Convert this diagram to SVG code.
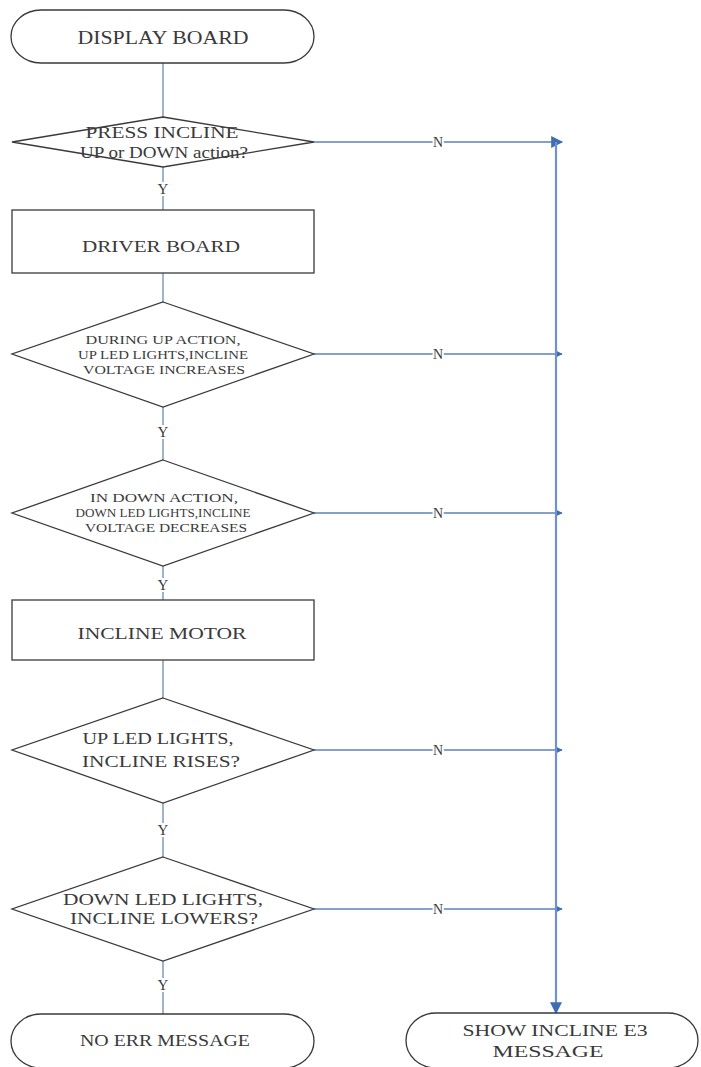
<svg xmlns="http://www.w3.org/2000/svg" width="701" height="1067" viewBox="0 0 701 1067">
  <defs>
    <marker id="arrow" viewBox="0 0 10 10" refX="9" refY="5" markerWidth="9" markerHeight="7" markerUnits="userSpaceOnUse" orient="auto">
      <path d="M0,0 L10,5 L0,10 z" fill="#3d6db3"/>
    </marker>
    <marker id="arrowBig" viewBox="0 0 10 10" refX="9" refY="5" markerWidth="20" markerHeight="12" markerUnits="userSpaceOnUse" orient="auto">
      <path d="M0,0 L10,5 L0,10 z" fill="#3d6db3"/>
    </marker>
  </defs>
  <style>
    .shape { fill: #ffffff; stroke: #3a3a3a; stroke-width: 1.3; }
    .label { font-family: "Liberation Serif", "Times New Roman", serif; fill: #3a3a3a; text-anchor: middle; }
    .flow { stroke: #7f9ab8; stroke-width: 1.5; fill: none; }
    .no { stroke: #5b82bd; stroke-width: 1.5; fill: none; }
    .bus { stroke: #6f93c8; stroke-width: 2.2; fill: none; }
    .tag { font-family: "Liberation Serif", "Times New Roman", serif; fill: #3a3a3a; text-anchor: middle; stroke: #ffffff; stroke-width: 4; paint-order: stroke; }
  </style>
  <rect width="701" height="1067" fill="#ffffff"/>

  <!-- connectors -->
  <g id="connectors">
    <line class="flow" x1="163" y1="63" x2="163" y2="117"/>
    <line class="flow" x1="163" y1="167" x2="163" y2="210"/>
    <line class="flow" x1="163" y1="273" x2="163" y2="302"/>
    <line class="flow" x1="163" y1="407" x2="163" y2="460"/>
    <line class="flow" x1="163" y1="566" x2="163" y2="600"/>
    <line class="flow" x1="163" y1="660" x2="163" y2="698"/>
    <line class="flow" x1="163" y1="803" x2="163" y2="857"/>
    <line class="flow" x1="163" y1="961" x2="163" y2="1014"/>

    <line class="no" x1="314" y1="142" x2="562" y2="142" marker-end="url(#arrowBig)"/>
    <line class="no" x1="314" y1="354" x2="562" y2="354" marker-end="url(#arrow)"/>
    <line class="no" x1="314" y1="513" x2="562" y2="513" marker-end="url(#arrow)"/>
    <line class="no" x1="314" y1="750" x2="562" y2="750" marker-end="url(#arrow)"/>
    <line class="no" x1="314" y1="909" x2="562" y2="909" marker-end="url(#arrow)"/>

    <line class="bus" x1="556" y1="142" x2="556" y2="1013" marker-end="url(#arrowBig)"/>

    <text class="tag" x="163" y="194" font-size="15">Y</text>
    <text class="tag" x="163" y="437" font-size="15">Y</text>
    <text class="tag" x="163" y="590" font-size="15">Y</text>
    <text class="tag" x="163" y="835" font-size="15">Y</text>
    <text class="tag" x="163" y="990" font-size="15">Y</text>

    <text class="tag" x="438" y="147" font-size="14">N</text>
    <text class="tag" x="438" y="359" font-size="14">N</text>
    <text class="tag" x="438" y="518" font-size="14">N</text>
    <text class="tag" x="438" y="755" font-size="14">N</text>
    <text class="tag" x="438" y="914" font-size="14">N</text>
  </g>

  <g id="display-board">
    <rect class="shape" x="11" y="10" width="303" height="53" rx="30" ry="26.5"/>
    <text class="label" x="163" y="44" font-size="18" textLength="171" lengthAdjust="spacingAndGlyphs">DISPLAY BOARD</text>
  </g>

  <g id="press-incline">
    <polygon class="shape" points="163,117 314,142 163,167 12,142"/>
    <text class="label" x="162" y="138" font-size="17" textLength="153" lengthAdjust="spacingAndGlyphs">PRESS INCLINE</text>
    <text class="label" x="164" y="158" font-size="17" textLength="168" lengthAdjust="spacingAndGlyphs">UP or DOWN action?</text>
  </g>

  <g id="driver-board">
    <rect class="shape" x="12" y="210" width="302" height="63"/>
    <text class="label" x="161" y="252" font-size="17" textLength="158" lengthAdjust="spacingAndGlyphs">DRIVER BOARD</text>
  </g>

  <g id="up-action-check">
    <polygon class="shape" points="163,302 314,354 163,407 12,354"/>
    <text class="label" x="163" y="344" font-size="13" textLength="155" lengthAdjust="spacingAndGlyphs">DURING UP ACTION,</text>
    <text class="label" x="163" y="359" font-size="13" textLength="170" lengthAdjust="spacingAndGlyphs">UP LED LIGHTS,INCLINE</text>
    <text class="label" x="164" y="374" font-size="13" textLength="162" lengthAdjust="spacingAndGlyphs">VOLTAGE INCREASES</text>
  </g>

  <g id="down-action-check">
    <polygon class="shape" points="163,460 314,513 163,566 12,513"/>
    <text class="label" x="164" y="502" font-size="13" textLength="148" lengthAdjust="spacingAndGlyphs">IN DOWN ACTION,</text>
    <text class="label" x="163" y="517" font-size="13" textLength="175" lengthAdjust="spacingAndGlyphs">DOWN LED LIGHTS,INCLINE</text>
    <text class="label" x="166" y="532" font-size="13" textLength="162" lengthAdjust="spacingAndGlyphs">VOLTAGE DECREASES</text>
  </g>

  <g id="incline-motor">
    <rect class="shape" x="12" y="600" width="302" height="60"/>
    <text class="label" x="162" y="639" font-size="17" textLength="169" lengthAdjust="spacingAndGlyphs">INCLINE MOTOR</text>
  </g>

  <g id="incline-rises-check">
    <polygon class="shape" points="163,698 314,750 163,803 12,750"/>
    <text class="label" x="158" y="744" font-size="16" textLength="151" lengthAdjust="spacingAndGlyphs">UP LED LIGHTS,</text>
    <text class="label" x="161" y="767" font-size="16" textLength="158" lengthAdjust="spacingAndGlyphs">INCLINE RISES?</text>
  </g>

  <g id="incline-lowers-check">
    <polygon class="shape" points="163,857 314,909 163,961 12,909"/>
    <text class="label" x="163" y="905" font-size="16" textLength="200" lengthAdjust="spacingAndGlyphs">DOWN LED LIGHTS,</text>
    <text class="label" x="164" y="924" font-size="16" textLength="188" lengthAdjust="spacingAndGlyphs">INCLINE LOWERS?</text>
  </g>

  <g id="no-err-message">
    <rect class="shape" x="11" y="1014" width="303" height="54" rx="30" ry="27"/>
    <text class="label" x="165" y="1046" font-size="17" textLength="170" lengthAdjust="spacingAndGlyphs">NO ERR MESSAGE</text>
  </g>

  <g id="show-e3-message">
    <rect class="shape" x="406" y="1013" width="292" height="55" rx="30" ry="27.5"/>
    <text class="label" x="555" y="1036" font-size="16" textLength="185" lengthAdjust="spacingAndGlyphs">SHOW INCLINE E3</text>
    <text class="label" x="548" y="1057" font-size="16" textLength="111" lengthAdjust="spacingAndGlyphs">MESSAGE</text>
  </g>
</svg>
